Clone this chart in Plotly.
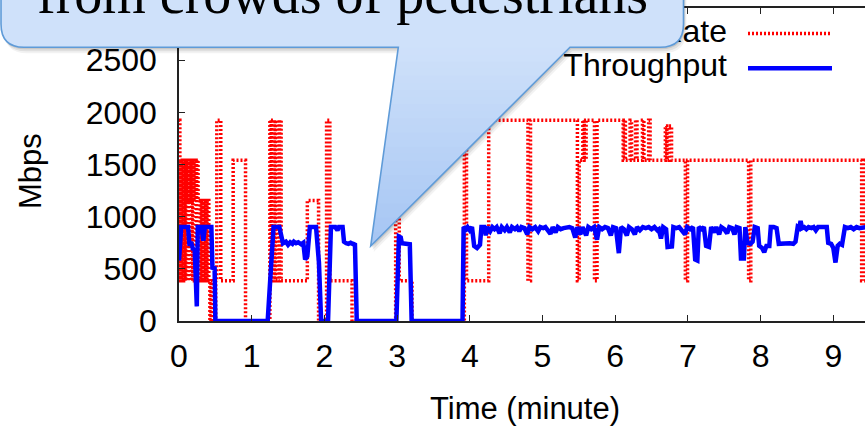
import plotly.graph_objects as go

# ---------------- data ----------------
phy_t = [0.000, 0.012, 0.022, 0.035, 0.045, 0.058, 0.068, 0.082, 0.092, 0.105,
         0.115, 0.130, 0.140, 0.155, 0.165, 0.180, 0.190, 0.205, 0.215, 0.235,
         0.245, 0.262, 0.275, 0.290, 0.305, 0.315, 0.330, 0.345, 0.360, 0.372,
         0.385, 0.398, 0.410, 0.425, 0.440, 0.460, 0.505, 0.520, 0.575, 0.745,
         0.915, 1.250, 1.268, 1.282, 1.300, 1.312, 1.325, 1.355, 1.370, 1.385,
         1.405, 1.765, 1.920, 2.030, 2.075, 2.380, 2.980, 3.030, 3.205, 3.925,
         3.955, 4.260, 4.800, 4.835, 5.480, 5.505, 5.555, 5.575, 5.600, 5.715,
         5.750, 6.110, 6.125, 6.140, 6.205, 6.225, 6.280, 6.300, 6.375, 6.395,
         6.460, 6.480, 6.690, 6.710, 6.740, 6.775, 6.965, 6.995, 7.835, 7.865,
         9.390, 9.430, 9.460]
phy_mbps = [1925, 385, 1540, 385, 1540, 385, 1540, 385, 1540, 1155,
            1540, 385, 1540, 1155, 1540, 385, 1540, 1155, 1540, 385,
            1540, 1155, 385, 1155, 385, 1155, 385, 1155, 385, 1155,
            385, 1155, 385, 0, 385, 0, 385, 1925, 385, 1540,
            0, 1925, 385, 1925, 385, 1925, 385, 1925, 385, 1925,
            385, 1155, 0, 1925, 385, 0, 1925, 385, 0, 1925,
            385, 1925, 385, 1925, 385, 1540, 1925, 1540, 1925, 385,
            1925, 1540, 1925, 1540, 1925, 1540, 1925, 1540, 1925, 1540,
            1925, 1540, 1870, 1540, 1870, 1540, 385, 1540, 385, 1540,
            385, 1540, 1540]

thr_t = [0.000, 0.030, 0.125, 0.145, 0.165, 0.195, 0.215, 0.232, 0.245, 0.258,
         0.310, 0.335, 0.355, 0.445, 0.460, 0.490, 0.500,
         1.220, 1.300, 1.380, 1.410, 1.430, 1.470, 1.500, 1.530, 1.560, 1.580,
         1.610, 1.640, 1.680, 1.710, 1.735, 1.765, 1.800, 1.885, 1.905, 1.925,
         1.955, 2.050, 2.090, 2.150, 2.180, 2.200, 2.250, 2.270, 2.300, 2.330,
         2.360, 2.400, 2.420, 2.445, 2.990, 3.025, 3.050, 3.065, 3.120, 3.175,
         3.200, 3.900, 3.915, 3.950, 3.970, 4.000, 4.030, 4.060, 4.100, 4.140,
         4.160, 4.200, 4.220, 4.240, 4.280, 4.310, 4.340, 4.370, 4.410, 4.440,
         4.480, 4.510, 4.550, 4.580, 4.620, 4.650, 4.680, 4.710, 4.750, 4.790,
         4.820, 4.860, 4.900, 4.940, 4.970, 5.010, 5.040, 5.080, 5.110, 5.140,
         5.180, 5.210, 5.250, 5.290, 5.330, 5.370, 5.410, 5.450, 5.480, 5.520,
         5.550, 5.600, 5.630, 5.670, 5.710, 5.750, 5.780, 5.820, 5.860, 5.900,
         5.940, 5.970, 6.010, 6.050, 6.080, 6.120, 6.160, 6.190, 6.230, 6.270,
         6.300, 6.340, 6.380, 6.420, 6.460, 6.500, 6.540, 6.580, 6.600, 6.630,
         6.660, 6.700, 6.720, 6.780, 6.800, 6.840, 6.880, 6.920, 6.960, 6.990,
         7.030, 7.070, 7.100, 7.130, 7.150, 7.190, 7.220, 7.250, 7.290, 7.320,
         7.360, 7.390, 7.430, 7.460, 7.500, 7.540, 7.570, 7.610, 7.640, 7.670,
         7.710, 7.730, 7.770, 7.790, 7.820, 7.860, 7.890, 7.920, 7.960, 7.980,
         8.020, 8.050, 8.080, 8.120, 8.140, 8.180, 8.220, 8.250, 8.300, 8.350,
         8.400, 8.450, 8.480, 8.510, 8.530, 8.550, 8.570, 8.600, 8.630, 8.660,
         8.700, 8.730, 8.760, 8.790, 8.830, 8.870, 8.910, 8.930, 8.970, 9.000,
         9.030, 9.060, 9.090, 9.120, 9.160, 9.200, 9.240, 9.280, 9.320, 9.360,
         9.400, 9.440]
thr_mbps = [580, 900, 900, 720, 760, 680, 700, 140, 140, 900,
            900, 770, 900, 900, 510, 505, 0,
            0, 900, 900, 780, 745, 760, 730, 755, 740, 760,
            745, 755, 735, 750, 590, 620, 900, 900, 750, 560,
            0, 0, 900, 900, 870, 900, 900, 760, 745, 740,
            750, 735, 745, 0, 0, 810, 800, 745, 740, 735,
            0, 0, 900, 880, 900, 870, 900, 720, 700, 730,
            900, 900, 820, 900, 860, 900, 880, 900, 840, 900,
            870, 900, 850, 900, 880, 900, 860, 900, 890, 830,
            900, 880, 900, 860, 900, 890, 900, 870, 835, 900,
            850, 900, 880, 890, 900, 900, 890, 800, 900, 830,
            900, 820, 900, 880, 900, 780, 900, 880, 900, 890,
            820, 900, 890, 650, 900, 880, 820, 900, 880, 830,
            900, 870, 900, 890, 900, 880, 900, 870, 880, 790,
            900, 880, 710, 715, 900, 890, 900, 870, 830, 900,
            880, 900, 590, 580, 900, 880, 900, 720, 710, 900,
            850, 900, 830, 900, 880, 840, 900, 890, 830, 900,
            890, 600, 600, 900, 750, 740, 760, 900, 890, 720,
            700, 660, 720, 720, 900, 900, 890, 740, 745, 740,
            745, 740, 760, 900, 890, 960, 890, 900, 880, 900,
            890, 900, 870, 900, 900, 890, 900, 750, 740, 700,
            560, 720, 740, 730, 900, 890, 900, 880, 900, 890,
            900, 900]

x_tick_vals = [0, 1, 2, 3, 4, 5, 6, 7, 8, 9]
y_tick_vals = [0, 500, 1000, 1500, 2000, 2500, 3000]
series_names = ["PHY Rate", "Throughput"]
callout_text = "from crowds of pedestrians"

# ---------------- layout geometry (pixels) ----------------
FIG_W, FIG_H = 865, 426
ML, MR, MT, MB = 179, 0, 8, 105
PW, PH = FIG_W - ML - MR, FIG_H - MT - MB


def px(X):
    return (X - ML) / PW


def py(Y):
    return (MT + PH - Y) / PH


def P(X, Y):
    return f"{px(X):.5f},{py(Y):.5f}"


RED = "#ff0000"
BLUE = "#0000ff"
RED_DASH = "2px,2px"
FONT = "Liberation Sans, Arial, Helvetica, sans-serif"
SERIF = "Liberation Serif, Times New Roman, serif"

fig = go.Figure()

fig.add_trace(go.Scatter(x=phy_t, y=phy_mbps, mode="lines", line_shape="hv",
                         line=dict(color=RED, width=3.5, dash=RED_DASH),
                         showlegend=False, name=series_names[0]))
fig.add_trace(go.Scatter(x=thr_t, y=thr_mbps, mode="lines",
                         line=dict(color=BLUE, width=4.5),
                         showlegend=False, name=series_names[1]))

# key (gnuplot style: text right, sample to the right) on a hidden overlay axis
key_x0, key_x1 = px(748), px(832)
key_rows = [py(33.5), py(68.3)]
fig.add_trace(go.Scatter(x=[key_x0, key_x1], y=[key_rows[0]] * 2, mode="lines",
                         line=dict(color=RED, width=3.5, dash=RED_DASH),
                         xaxis="x2", yaxis="y2", showlegend=False, hoverinfo="skip"))
fig.add_trace(go.Scatter(x=[key_x0, key_x1], y=[key_rows[1]] * 2, mode="lines",
                         line=dict(color=BLUE, width=4.5),
                         xaxis="x2", yaxis="y2", showlegend=False, hoverinfo="skip"))
fig.add_trace(go.Scatter(x=[px(727), px(727)], y=key_rows, mode="text",
                         text=series_names, textposition="middle left",
                         textfont=dict(family=FONT, size=32, color="black"),
                         xaxis="x2", yaxis="y2", showlegend=False, hoverinfo="skip"))

# ---------------- callout ----------------
outline_pts = [(1, -90), (1, 24), (1, 47.3), (24, 47.3), (398.3, 47.3), (370.7, 246),
               (570, 47.3), (660, 47.3), (683.5, 47.3), (683.5, 24), (683.5, -90)]


def callout_path(dx=0.0, dy=0.0):
    p = [(x + dx, y + dy) for x, y in outline_pts]
    return (f"M{P(*p[0])} L{P(*p[1])} Q{P(*p[2])} {P(*p[3])} L{P(*p[4])} "
            f"L{P(*p[5])} L{P(*p[6])} L{P(*p[7])} Q{P(*p[8])} {P(*p[9])} L{P(*p[10])} Z")


shapes = []
for dx, dy, a in [(3, 6, 0.05), (2, 4, 0.08), (1, 2, 0.10)]:
    shapes.append(dict(type="path", xref="paper", yref="paper", layer="above",
                       path=callout_path(dx, dy), fillcolor=f"rgba(0,0,0,{a})",
                       line=dict(width=0)))
shapes.append(dict(type="path", xref="paper", yref="paper", layer="above",
                   path=callout_path(), fillcolor="#cfe1fa", line=dict(width=0)))

# gradient on the pointer
c_top = (207, 225, 250)
c_tip = (165, 197, 243)
lx0, ly0 = 398.3, 47.3
rx0 = 570.0
tx, ty = 370.7, 246.0
NB = 28
for i in range(NB):
    ya = ly0 + (ty - ly0) * i / NB
    yb = min(ly0 + (ty - ly0) * (i + 1) / NB + 0.8, ty)
    fa = (ya - ly0) / (ty - ly0)
    fb = (yb - ly0) / (ty - ly0)
    xla, xra = lx0 + (tx - lx0) * fa, rx0 + (tx - rx0) * fa
    xlb, xrb = lx0 + (tx - lx0) * fb, rx0 + (tx - rx0) * fb
    f = (i + 0.5) / NB
    col = tuple(int(round(c_top[k] + (c_tip[k] - c_top[k]) * f)) for k in range(3))
    shapes.append(dict(type="path", xref="paper", yref="paper", layer="above",
                       path=f"M{P(xla, ya)} L{P(xra, ya)} L{P(xrb, yb)} L{P(xlb, yb)} Z",
                       fillcolor=f"rgb{col}", line=dict(width=0)))

shapes.append(dict(type="path", xref="paper", yref="paper", layer="above",
                   path=callout_path(), fillcolor="rgba(0,0,0,0)",
                   line=dict(color="#5f9bd8", width=1.6)))

annotations = [
    dict(text=callout_text, xref="paper", yref="paper", x=px(35), y=py(27.5),
         xanchor="left", yanchor="bottom", showarrow=False,
         font=dict(family=SERIF, size=56, color="black")),
    dict(text="Mbps", xref="paper", yref="paper", x=px(30), y=py(171),
         xanchor="center", yanchor="middle", textangle=-90, showarrow=False,
         font=dict(family=FONT, size=31, color="black")),
    dict(text="Time (minute)", xref="paper", yref="paper", x=px(525), y=py(408),
         xanchor="center", yanchor="middle", showarrow=False,
         font=dict(family=FONT, size=31, color="black")),
]

fig.update_layout(
    width=FIG_W, height=FIG_H,
    margin=dict(l=ML, r=MR, t=MT, b=MB, pad=0),
    paper_bgcolor="white", plot_bgcolor="white",
    showlegend=False,
    xaxis=dict(range=[0, PW / 72.7], tickvals=x_tick_vals, ticks="inside", ticklen=6,
               tickwidth=1, tickcolor="#222", showline=True, linecolor="#222",
               linewidth=1.5, mirror="ticks", showgrid=False, zeroline=False,
               tickfont=dict(family=FONT, size=32, color="black"),
               ticklabelstandoff=6),
    yaxis=dict(range=[0, 3000], tickvals=y_tick_vals, ticks="inside", ticklen=6,
               tickwidth=1, tickcolor="#222", showline=True, linecolor="#222",
               linewidth=1.5, mirror=False, showgrid=False, zeroline=False,
               tickfont=dict(family=FONT, size=32, color="black"),
               ticklabelstandoff=14),
    xaxis2=dict(overlaying="x", range=[0, 1], visible=False),
    yaxis2=dict(overlaying="y", range=[0, 1], visible=False),
    shapes=shapes,
    annotations=annotations,
)

fig.write_html("out.html")
